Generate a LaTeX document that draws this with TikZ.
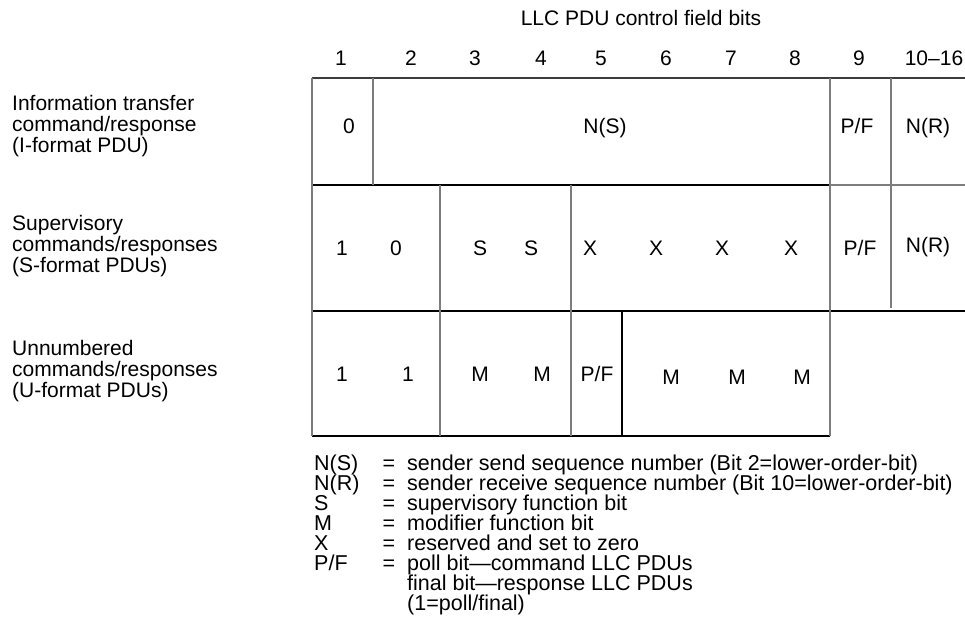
\documentclass[tikz,border=0pt]{standalone}
\usepackage{fontspec}
\setmainfont{Liberation Sans}
\definecolor{vgray}{RGB}{125,125,125}
\definecolor{hdark}{RGB}{60,60,60}
\begin{document}
\begin{tikzpicture}[x=1pt,y=-1pt,
  txt/.style={anchor=base,inner sep=0pt,font=\fontsize{21}{21}\selectfont},
  lbl/.style={anchor=base west,inner sep=0pt,font=\fontsize{21}{21}\selectfont},
  leg/.style={anchor=base west,inner sep=0pt,font=\fontsize{21.5}{21.5}\selectfont},
  legeq/.style={anchor=base,inner sep=0pt,font=\fontsize{21.5}{21.5}\selectfont},
  vline/.style={draw=vgray,line width=1.3pt},
  hline/.style={draw=black,line width=1.3pt},
  topline/.style={draw=hdark,line width=1.3pt},
  boldline/.style={draw=black,line width=2.6pt}]
\useasboundingbox (0,0) rectangle (965,628);

% title and bit numbers
\node[txt] (title) at (641,25.5) {LLC PDU control field bits};
\foreach \x/\t [count=\i] in {341/1,411/2,475/3,541/4,601/5,666/6,731/7,795/8,859/9,934/10--16}
  \node[txt] (bit\i) at (\x,65.5) {\t};

% grid coordinates
\coordinate (tl) at (312,78);
\coordinate (tr) at (965,78);
\coordinate (ml) at (312,185);
\coordinate (m8) at (830,185);
\coordinate (mr) at (965,185);
\coordinate (nl) at (312,311);
\coordinate (nr) at (965,311);
\coordinate (bl) at (312,436);
\coordinate (b8) at (830,436);

% horizontal lines
\draw[topline] (tl) -- (tr);
\draw[vline] (m8) -- (mr);
\draw[boldline] (ml) -- (m8);
\draw[hline] (nl) -- (nr);
\draw[hline] (bl) -- (b8);

% vertical lines
\draw[vline] (tl) -- (bl);
\draw[vline] (373,78) -- (373,185);
\draw[vline] (440,185) -- (440,436);
\draw[vline] (571,185) -- (571,436);
\draw[hline] (622,311) -- (622,436);
\draw[vline] (830,78) -- (b8);
\draw[vline] (891,78) -- (891,308);

% row 1
\node[txt] (r1a) at (349,134) {0};
\node[txt] (r1b) at (605,134) {N(S)};
\node[txt] (r1c) at (857,134) {P/F};
\node[txt] (r1d) at (928,134) {N(R)};

% row 2
\foreach \x/\t [count=\i] in {342/1,396/0,480/S,531/S,590/X,656/X,722/X,791/X,860/{P/F}}
  \node[txt] (r2\i) at (\x,255.5) {\t};
\node[txt] (r2nr) at (928,252.5) {N(R)};

% row 3
\foreach \x/\t [count=\i] in {342/1,408/1,480/M,542/M,597/{P/F}}
  \node[txt] (r3\i) at (\x,381.5) {\t};
\foreach \x [count=\i] in {671,737,802}
  \node[txt] (r3m\i) at (\x,384) {M};

% left labels
\node[lbl] (la1) at (12,110.5) {Information transfer};
\node[lbl] (la2) at (12,131.5) {command/response};
\node[lbl] (la3) at (12,152.5) {(I-format PDU)};
\node[lbl] (lb1) at (12,230.5) {Supervisory};
\node[lbl] (lb2) at (12,251.5) {commands/responses};
\node[lbl] (lb3) at (12,272.5) {(S-format PDUs)};
\node[lbl] (lc1) at (12,355.5) {Unnumbered};
\node[lbl] (lc2) at (12,376.5) {commands/responses};
\node[lbl] (lc3) at (12,397.5) {(U-format PDUs)};

% legend
\foreach \k/\d [count=\i] in {
  N(S)/sender send sequence number (Bit 2=lower-order-bit),
  N(R)/sender receive sequence number (Bit 10=lower-order-bit),
  S/supervisory function bit,
  M/modifier function bit,
  X/reserved and set to zero,
  {P/F}/poll bit---command LLC PDUs}
{
  \node[leg] (key\i) at (314,{470+(\i-1)*20}) {\k};
  \node[legeq] (eq\i) at (389,{470+(\i-1)*20}) {=};
  \node[leg] (desc\i) at (407,{470+(\i-1)*20}) {\d};
}
\node[leg] (desc7) at (407,590) {final bit---response LLC PDUs};
\node[leg] (desc8) at (407,610) {(1=poll/final)};
\end{tikzpicture}
\end{document}
